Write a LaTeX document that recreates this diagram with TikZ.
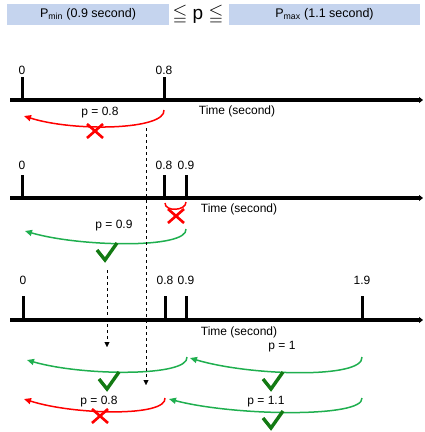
\documentclass[tikz,border=0pt]{standalone}
\usepackage{amssymb}
\usepackage{fontspec}
\setmainfont{Liberation Sans}
\usetikzlibrary{arrows.meta, positioning}
\definecolor{boxblue}{HTML}{C5D4EE}
\definecolor{okgreen}{HTML}{1FAF4F}
\definecolor{darkok}{HTML}{137A13}
\definecolor{badred}{HTML}{FF0000}

\begin{document}
\begin{tikzpicture}[x=1pt, y=-1pt, >=Stealth,
    lbl/.style={font=\fontsize{12}{14}\selectfont, inner sep=0pt},
    boundbox/.style={fill=boxblue, minimum height=21, inner sep=0pt, font=\fontsize{12.5}{14}\selectfont},
    timeaxis/.style={line width=3.2pt, -{Triangle[length=4pt,width=6pt]}},
    tickbar/.style={line width=3pt},
    turn/.style={line width=1.5pt, -{Triangle[length=7pt,width=6pt]}},
    drop/.style={thin, dash pattern=on 3pt off 3pt, -{Triangle[length=5pt,width=5pt]}},
    okmark/.pic={\draw[darkok, line width=3.4pt] (-10,-2) -- (-2,8) -- (10,-9);},
    nomark/.pic={\draw[badred, line width=2.6pt] (-8,-7) -- (8,7) (-8,7) -- (8,-7);}]
  \useasboundingbox (0,0) rectangle (424,432);

  % bounds on p
  \node[boundbox, minimum width=162] (pmin) at (88,14.5) {P\textsubscript{min} (0.9 second)};
  \node[boundbox, minimum width=191] (pmax) at (324.5,14.5) {P\textsubscript{max} (1.1 second)};
  \node[inner sep=0pt, font=\fontsize{19}{20}\selectfont] (bound) at (198,15) {$\leqq$ p $\leqq$};

  % first timeline
  \coordinate (ax1s) at (10,100);
  \coordinate (ax1e) at (423,100);
  \draw[timeaxis] (ax1s) -- (ax1e);
  \foreach \x/\t [count=\i] in {22/0, 164/0.8} {
    \node[lbl] (ta\i) at (\x,70) {\t};
    \draw[tickbar] (\x,77) -- (\x,100);
  }
  \node[lbl] (time1) at (237,111) {Time (second)};
  \coordinate (r1) at (164,110);
  \coordinate (l1) at (24,116);
  \draw[turn, badred] (r1) .. controls +(2,20) and +(50,16) .. (l1);
  \node[lbl] (p1) at (100,113) {p = 0.8};
  \pic at (95,131) {nomark};

  % second timeline
  \coordinate (ax2s) at (10,198);
  \coordinate (ax2e) at (423,198);
  \draw[timeaxis] (ax2s) -- (ax2e);
  \foreach \x/\t [count=\i] in {22/0, 164/0.8, 186/0.9} {
    \node[lbl] (tb\i) at (\x,165) {\t};
    \draw[tickbar] (\x,175) -- (\x,198);
  }
  \node[lbl] (time2) at (239,209) {Time (second)};
  \coordinate (r2a) at (186,202);
  \coordinate (l2a) at (165,203);
  \draw[badred, line width=1.5pt] (r2a) .. controls +(0,9) and +(0,9) .. (l2a);
  \pic at (176,216) {nomark};
  \coordinate (r2) at (186,229);
  \coordinate (l2) at (25,231);
  \draw[turn, okgreen] (r2) .. controls +(2,20) and +(55,16) .. (l2);
  \node[lbl] (p2) at (114,226) {p = 0.9};
  \pic at (107,252) {okmark};

  % third timeline
  \coordinate (ax3s) at (10,320);
  \coordinate (ax3e) at (423,320);
  \draw[timeaxis] (ax3s) -- (ax3e);
  \foreach \x/\t [count=\i] in {23/0, 165/0.8, 186/0.9, 362/1.9} {
    \node[lbl] (tc\i) at (\x,280) {\t};
    \draw[tickbar] (\x,296) -- (\x,320);
  }
  \node[lbl] (time3) at (239,332) {Time (second)};

  \coordinate (r3a) at (187,357);
  \coordinate (l3a) at (27,360);
  \draw[turn, okgreen] (r3a) .. controls +(2,20) and +(55,16) .. (l3a);
  \pic at (109,381) {okmark};
  \coordinate (r3b) at (362,357);
  \coordinate (l3b) at (190,358);
  \draw[turn, okgreen] (r3b) .. controls +(2,22) and +(60,18) .. (l3b);
  \node[lbl] (p3b) at (282,347) {p = 1};
  \pic at (273,381) {okmark};
  \coordinate (r3c) at (165,398);
  \coordinate (l3c) at (24,399);
  \draw[turn, badred] (r3c) .. controls +(2,19) and +(50,16) .. (l3c);
  \node[lbl] (p3c) at (99,402) {p = 0.8};
  \pic at (100,416) {nomark};
  \coordinate (r3d) at (362,398);
  \coordinate (l3d) at (169,399);
  \draw[turn, okgreen] (r3d) .. controls +(2,20) and +(65,17) .. (l3d);
  \node[lbl] (p3d) at (266,402) {p = 1.1};
  \pic at (273,420) {okmark};

  % shifts carried down
  \coordinate (d1s) at (146,128);
  \coordinate (d1e) at (146,385);
  \draw[drop] (d1s) -- (d1e);
  \coordinate (d2s) at (107,270);
  \coordinate (d2e) at (107,347);
  \draw[drop] (d2s) -- (d2e);
\end{tikzpicture}
\end{document}
